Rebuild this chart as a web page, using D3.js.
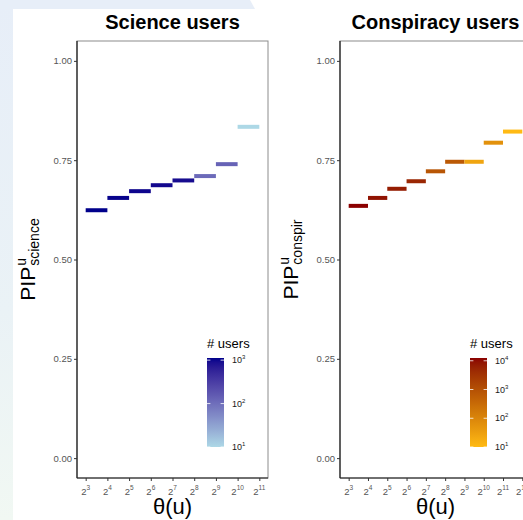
<!DOCTYPE html>
<html>
<head>
<meta charset="utf-8">
<script src="https://cdn.jsdelivr.net/npm/d3@7"></script>
<style>
  body { margin: 0; background: #fff; }
  svg { display: block; font-family: "Liberation Sans", Arial, sans-serif; }
</style>
</head>
<body>
<div id="chart"></div>
<script>
// segment start exponents: each step covers theta in [2^k, 2^(k+1))
const sciStart = [3, 4, 5, 6, 7, 8, 9, 10];
const sciPIP = [0.624, 0.655, 0.672, 0.687, 0.699, 0.710, 0.740, 0.834];
const sciUsers = [1120, 1060, 1010, 960, 910, 110, 130, 10];
const sciTicks = [3, 4, 5, 6, 7, 8, 9, 10, 11];
const sciBreaks = [1, 2, 3];

const conStart = [3, 4, 5, 6, 7, 8, 9, 10, 11];
const conPIP = [0.635, 0.655, 0.678, 0.697, 0.722, 0.746, 0.746, 0.794, 0.822];
const conUsers = [12500, 9000, 7000, 5000, 800, 700, 25, 60, 10];
const conTicks = [3, 4, 5, 6, 7, 8, 9, 10, 11, 12];
const conBreaks = [1, 2, 3, 4];

const yTicks = [0, 0.25, 0.5, 0.75, 1];

var W = 523, H = 520;
var svg = d3.select('#chart').append('svg').attr('width', W).attr('height', H);

// pale page background at the edges
var defs = svg.append('defs');
var bg = defs.append('linearGradient').attr('id', 'bgStrip')
  .attr('x1', 0).attr('y1', 0).attr('x2', 0).attr('y2', 1);
bg.append('stop').attr('offset', 0).attr('stop-color', '#e7eef8');
bg.append('stop').attr('offset', 0.6).attr('stop-color', '#eaf2f6');
bg.append('stop').attr('offset', 1).attr('stop-color', '#f1f8f3');
svg.append('rect').attr('x', 0).attr('y', 0).attr('width', 13).attr('height', H).attr('fill', 'url(#bgStrip)');
svg.append('path').attr('d', 'M0,0L250,0L255,9L0,9Z').attr('fill', '#e7eef8');

var panels = [
  {title: 'Science users', sub: 'science', left: 77, start: sciStart, pip: sciPIP, users: sciUsers,
   ticks: sciTicks, breaks: sciBreaks, lo: '#ADD8E6', hi: '#00008B', xdom: [2.6, 11.4], id: 'gSci'},
  {title: 'Conspiracy users', sub: 'conspir', left: 340, start: conStart, pip: conPIP, users: conUsers,
   ticks: conTicks, breaks: conBreaks, lo: '#FFBA14', hi: '#8B0000', xdom: [2.55, 12.45], id: 'gCon'}
];

var pw = 191, pTop = 41, pBottom = 478;
var yScale = d3.scaleLinear().domain([-0.05, 1.05]).range([pBottom, pTop]);

function supText(sel, base, exp, baseSize, expSize, rise) {
  sel.append('tspan').attr('font-size', baseSize).text(base);
  sel.append('tspan').attr('font-size', expSize).attr('dy', -rise).text(exp);
}

panels.forEach(function(p) {
  var xScale = d3.scaleLog().base(2)
    .domain([Math.pow(2, p.xdom[0]), Math.pow(2, p.xdom[1])])
    .range([p.left, p.left + pw]);
  var uExt = d3.extent(p.users);
  var color = d3.scaleLog().domain(uExt).range([p.lo, p.hi]).interpolate(d3.interpolateLab);

  var g = svg.append('g');

  // panel frame
  g.append('rect').attr('x', p.left).attr('y', pTop).attr('width', pw).attr('height', pBottom - pTop)
    .attr('fill', 'white').attr('stroke', '#8c8c8c').attr('stroke-width', 1);
  g.append('line').attr('x1', p.left).attr('x2', p.left).attr('y1', pTop).attr('y2', pBottom)
    .attr('stroke', '#1a1a1a').attr('stroke-width', 1.2);
  g.append('line').attr('x1', p.left).attr('x2', p.left + pw).attr('y1', pBottom).attr('y2', pBottom)
    .attr('stroke', '#1a1a1a').attr('stroke-width', 1.2);

  // title
  g.append('text').attr('x', p.left + pw / 2).attr('y', 29).attr('text-anchor', 'middle')
    .attr('font-size', 20).attr('font-weight', 'bold').attr('fill', '#000').text(p.title);

  // y axis
  var yAxis = d3.axisLeft(yScale).tickValues(yTicks).tickFormat(d3.format('.2f')).tickSize(3).tickPadding(2);
  var ya = g.append('g').attr('transform', 'translate(' + p.left + ',0)').call(yAxis);
  ya.select('.domain').remove();
  ya.attr('font-family', null);
  ya.selectAll('line').attr('stroke', '#333');
  ya.selectAll('text').attr('fill', '#555').attr('font-size', 9.5);

  // x axis with 2^k labels
  var xAxis = d3.axisBottom(xScale).tickValues(p.ticks.map(k => Math.pow(2, k))).tickSize(3).tickFormat('');
  var xa = g.append('g').attr('transform', 'translate(0,' + pBottom + ')').call(xAxis);
  xa.select('.domain').remove();
  xa.selectAll('line').attr('stroke', '#333');
  p.ticks.forEach(function(k) {
    var t = g.append('text').attr('x', xScale(Math.pow(2, k))).attr('y', 495)
      .attr('text-anchor', 'middle').attr('fill', '#555');
    supText(t, '2', String(k), 9.5, 6.5, 5);
  });

  // step segments
  g.selectAll('.seg').data(p.start).join('line')
    .attr('class', 'seg')
    .attr('x1', d => xScale(Math.pow(2, d)))
    .attr('x2', d => xScale(Math.pow(2, d + 1)))
    .attr('y1', (d, i) => yScale(p.pip[i]))
    .attr('y2', (d, i) => yScale(p.pip[i]))
    .attr('stroke', (d, i) => color(p.users[i]))
    .attr('stroke-width', 4);

  // axis titles
  var yl = g.append('g').attr('transform', 'translate(' + (p.left - 42) + ',' + ((pTop + pBottom) / 2) + ') rotate(-90)');
  var main = yl.append('text').attr('font-size', 21).attr('fill', '#000').text('PIP');
  var mw = main.node().getComputedTextLength();
  var subT = yl.append('text').attr('font-size', 14).attr('fill', '#000').attr('y', 4).text(p.sub);
  var sw = subT.node().getComputedTextLength();
  var tot = mw + 1 + sw;
  main.attr('x', -tot / 2);
  subT.attr('x', -tot / 2 + mw + 1);
  yl.append('text').attr('font-size', 14).attr('fill', '#000')
    .attr('x', -tot / 2 + mw + 1).attr('y', -9).text('u');

  g.append('text').attr('x', p.left + pw / 2).attr('y', 514).attr('text-anchor', 'middle')
    .attr('font-size', 22).attr('fill', '#000').text('θ(u)');

  // colourbar legend
  var lx = p.left + pw - 61, ltop = 358, lbot = 447, lw = 17;
  var gradId = 'grad' + p.id;
  var grad = defs.append('linearGradient').attr('id', gradId)
    .attr('x1', 0).attr('y1', 1).attr('x2', 0).attr('y2', 0);
  d3.range(0, 1.0001, 0.05).forEach(function(t) {
    var u = Math.pow(10, Math.log10(uExt[0]) + t * (Math.log10(uExt[1]) - Math.log10(uExt[0])));
    grad.append('stop').attr('offset', t).attr('stop-color', color(u));
  });
  g.append('rect').attr('x', lx).attr('y', ltop).attr('width', lw).attr('height', lbot - ltop)
    .attr('fill', 'url(#' + gradId + ')');
  var lScale = d3.scaleLog().domain(uExt).range([lbot, ltop]);
  p.breaks.forEach(function(b) {
    var yy = lScale(Math.pow(10, b));
    g.append('line').attr('x1', lx).attr('x2', lx + 3.4).attr('y1', yy).attr('y2', yy)
      .attr('stroke', 'white').attr('stroke-width', 0.8);
    g.append('line').attr('x1', lx + lw - 3.4).attr('x2', lx + lw).attr('y1', yy).attr('y2', yy)
      .attr('stroke', 'white').attr('stroke-width', 0.8);
    var t = g.append('text').attr('x', lx + lw + 8).attr('y', yy + 3).attr('fill', '#1a1a1a');
    supText(t, '10', String(b), 9, 6, 4);
  });
  g.append('text').attr('x', lx).attr('y', 348).attr('font-size', 13).attr('fill', '#000').text('# users');
});
</script>
</body>
</html>
